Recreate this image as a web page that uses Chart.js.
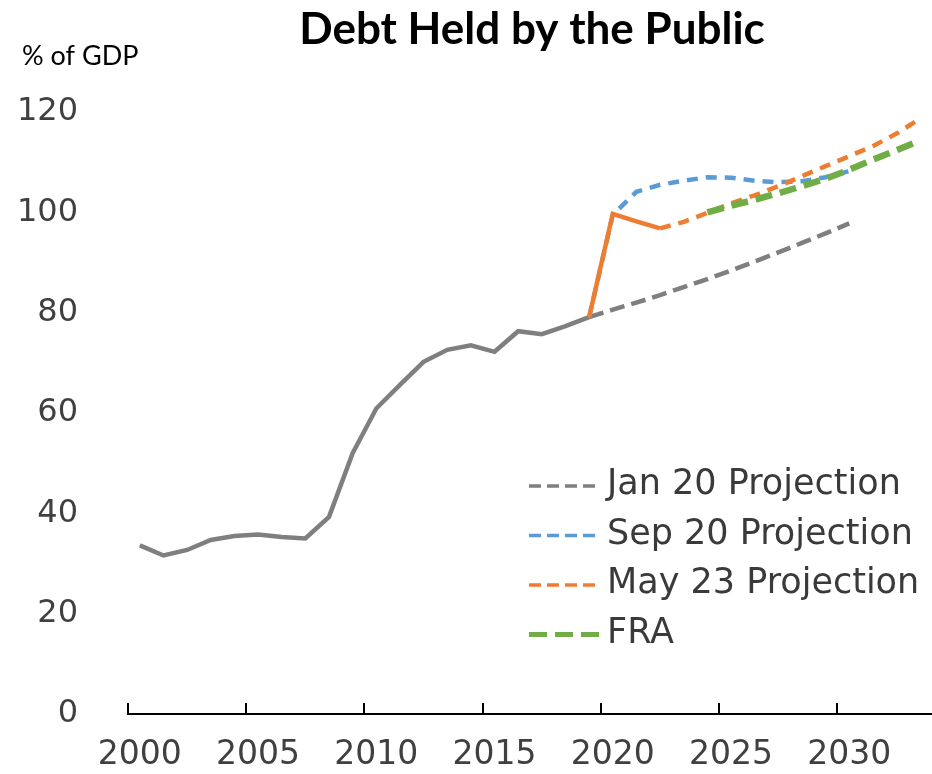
<!DOCTYPE html>
<html>
<head>
<meta charset="utf-8">
<title>Debt Held by the Public</title>
<script src="https://cdn.jsdelivr.net/npm/chart.js@4.4.1/dist/chart.umd.min.js"></script>
<style>
  html, body { margin: 0; padding: 0; background: #fff; }
</style>
</head>
<body>
<canvas id="debtChart" width="932" height="774"></canvas>
<script>
const years = [];
for (let yr = 2000; yr <= 2033; yr++) years.push(yr);

const yTicks = [0, 20, 40, 60, 80, 100, 120];

// actual debt, % of GDP
const histStart = 2000;
const histValues = [33.6, 31.6, 32.7, 34.7, 35.5, 35.8, 35.3, 35.0, 39.3, 52.0,
                    60.9, 65.6, 70.2, 72.6, 73.5, 72.2, 76.3, 75.7, 77.3, 79.1];
const actualStart = 2019;
const actualValues = [79.1, 99.7, 98.2, 96.8];

// projections
const jan20Start = 2019;
const jan20Values = [79.1, 80.6, 82.0, 83.5, 85.1, 86.7, 88.4, 90.2, 92.0, 93.9, 95.8, 97.8];
const sep20Start = 2019;
const sep20Values = [79.1, 99.5, 104.1, 105.5, 106.3, 107.0, 106.9, 106.3, 106.0, 106.2, 107.0, 108.2];
const may23Start = 2022;
const may23Values = [96.8, 98.1, 99.9, 101.8, 103.4, 105.2, 107.2, 109.2, 111.2, 113.2, 115.7, 118.7];
const fraStart = 2024;
const fraValues = [100.0, 101.3, 102.5, 103.8, 105.2, 106.7, 108.5, 110.5, 112.4, 114.3];

const legendOrder = ["Jan 20 Projection", "Sep 20 Projection", "May 23 Projection", "FRA"];

const GRAY = "#7f7f7f";
const BLUE = "#5b9bd5";
const ORANGE = "#ed7d31";
const GREEN = "#70ad47";

const alignTo = (start, values) => years.map(yr => {
    let v = values[yr - start];
    return v === undefined ? null : v;
});

const legendStyle = {
    "Jan 20 Projection": { dash: [12, 6], width: 3.5 },
    "Sep 20 Projection": { dash: [12, 6], width: 3.5 },
    "May 23 Projection": { dash: [12, 6], width: 3.5 },
    "FRA": { dash: [18, 8], width: 5 }
};

const extras = {
    id: "extras",
    afterDraw(chart) {
        const { ctx, scales: { x, y } } = chart;
        ctx.save();

        // small ticks pointing up from the axis, on category boundaries
        let half = (x.getPixelForValue(1) - x.getPixelForValue(0)) / 2;
        ctx.strokeStyle = "#000";
        ctx.lineWidth = 2;
        years.forEach((yr, i) => {
            if (yr % 5 !== 0) return;
            let px = Math.round(x.getPixelForValue(i) - half);
            ctx.beginPath();
            ctx.moveTo(px, y.bottom);
            ctx.lineTo(px, y.bottom - 11);
            ctx.stroke();
        });

        // legend
        let rowY = 485;
        ctx.font = "35px 'DejaVu Sans'";
        ctx.textBaseline = "middle";
        ctx.textAlign = "left";
        legendOrder.forEach(name => {
            let ds = chart.data.datasets.find(d => d.label === name);
            let st = legendStyle[name];
            ctx.strokeStyle = ds.borderColor;
            ctx.lineWidth = st.width;
            ctx.setLineDash(st.dash);
            ctx.beginPath();
            ctx.moveTo(529, rowY + 1);
            ctx.lineTo(601, rowY + 1);
            ctx.stroke();
            ctx.setLineDash([]);
            ctx.fillStyle = "#3a3a3a";
            ctx.fillText(name, 607, rowY);
            rowY += 49.5;
        });

        // titles
        ctx.fillStyle = "#000";
        ctx.textAlign = "center";
        ctx.font = "bold 44px Lato";
        ctx.fillText("Debt Held by the Public", 532, 30);
        ctx.textAlign = "left";
        ctx.font = "27px Lato";
        ctx.fillText("% of GDP", 22, 56);

        ctx.restore();
    }
};

const line = (label, data, color, width, dash) => ({
    label: label,
    data: data,
    borderColor: color,
    backgroundColor: color,
    borderWidth: width,
    borderDash: dash,
    pointRadius: 0,
    tension: 0,
    fill: false
});

new Chart(document.getElementById("debtChart"), {
    type: "line",
    data: {
        labels: years,
        datasets: [
            line("Actual", alignTo(actualStart, actualValues), ORANGE, 4.5, []),
            line("FRA", alignTo(fraStart, fraValues), GREEN, 6.5, [17, 8]),
            line("May 23 Projection", alignTo(may23Start, may23Values), ORANGE, 4.5, [11, 8]),
            line("Sep 20 Projection", alignTo(sep20Start, sep20Values), BLUE, 4.5, [11, 8]),
            line("Jan 20 Projection", alignTo(jan20Start, jan20Values), GRAY, 4.5, [15, 7]),
            line("History", alignTo(histStart, histValues), GRAY, 4.5, [])
        ]
    },
    options: {
        responsive: false,
        animation: false,
        devicePixelRatio: 1,
        layout: { padding: { top: 112, left: 0, right: 0, bottom: 0 } },
        plugins: {
            legend: { display: false },
            tooltip: { enabled: false }
        },
        scales: {
            x: {
                type: "category",
                offset: true,
                grid: { display: false, drawTicks: false },
                border: { display: true, color: "#000", width: 2 },
                ticks: {
                    autoSkip: false,
                    maxRotation: 0,
                    minRotation: 0,
                    padding: 22,
                    color: "#404040",
                    font: { family: "DejaVu Sans", size: 33 },
                    callback: (val, i) => years[i] % 5 === 0 ? String(years[i]) : ""
                },
                afterFit: scale => {
                    scale.height = 60;
                    scale.paddingLeft = 0;
                    scale.paddingRight = 0;
                }
            },
            y: {
                min: 0,
                max: 120,
                grid: { display: false, drawTicks: false },
                border: { display: false },
                afterBuildTicks: scale => { scale.ticks = yTicks.map(v => ({ value: v })); },
                ticks: {
                    padding: 50,
                    color: "#404040",
                    font: { family: "DejaVu Sans", size: 32 }
                },
                afterFit: scale => {
                    scale.width = 128;
                    scale.paddingTop = 0;
                    scale.paddingBottom = 0;
                }
            }
        }
    },
    plugins: [extras]
});
</script>
</body>
</html>
